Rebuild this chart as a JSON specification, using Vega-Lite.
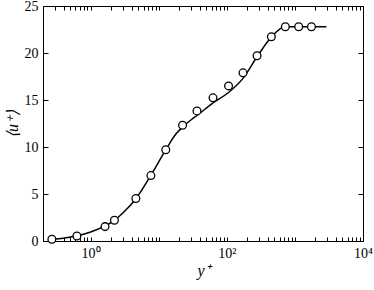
{
  "$schema": "https://vega.github.io/schema/vega-lite/v6.json",
  "width": 320,
  "height": 235,
  "autosize": "none",
  "padding": {"left": 43, "top": 6, "right": 11, "bottom": 49},
  "background": "white",
  "config": {
    "view": {"stroke": "black", "strokeWidth": 1},
    "font": "Liberation Serif",
    "axis": {
      "grid": false,
      "domain": false,
      "tickColor": "black",
      "labelColor": "black",
      "titleColor": "black",
      "labelFont": "Liberation Serif",
      "titleFont": "Liberation Serif",
      "labelFontSize": 14,
      "titleFontSize": 16,
      "titleFontWeight": "normal",
      "tickWidth": 1,
      "ticks": true
    }
  },
  "datasets": {
    "line": [
      {"yplus": 0.27, "u": 0.18},
      {"yplus": 0.4, "u": 0.3},
      {"yplus": 0.63, "u": 0.55},
      {"yplus": 1.0, "u": 0.95},
      {"yplus": 1.63, "u": 1.6},
      {"yplus": 2.24, "u": 2.2},
      {"yplus": 3.0, "u": 3.0},
      {"yplus": 4.62, "u": 4.5},
      {"yplus": 7.68, "u": 7.0},
      {"yplus": 12.7, "u": 9.7},
      {"yplus": 18, "u": 11.4},
      {"yplus": 22.4, "u": 12.1},
      {"yplus": 30, "u": 12.9},
      {"yplus": 36.5, "u": 13.35},
      {"yplus": 62.7, "u": 14.7},
      {"yplus": 106, "u": 15.8},
      {"yplus": 173, "u": 17.3},
      {"yplus": 278, "u": 19.6},
      {"yplus": 451, "u": 21.7},
      {"yplus": 600, "u": 22.55},
      {"yplus": 724, "u": 22.8},
      {"yplus": 1137, "u": 22.8},
      {"yplus": 2900, "u": 22.8}
    ],
    "pts": [
      {"yplus": 0.27, "u": 0.18},
      {"yplus": 0.63, "u": 0.53},
      {"yplus": 1.63, "u": 1.53},
      {"yplus": 2.24, "u": 2.2},
      {"yplus": 4.62, "u": 4.52},
      {"yplus": 7.68, "u": 6.96},
      {"yplus": 12.7, "u": 9.71},
      {"yplus": 22.4, "u": 12.32},
      {"yplus": 36.5, "u": 13.84},
      {"yplus": 62.7, "u": 15.23},
      {"yplus": 106, "u": 16.5},
      {"yplus": 173, "u": 17.89},
      {"yplus": 278, "u": 19.7},
      {"yplus": 451, "u": 21.73},
      {"yplus": 724, "u": 22.79},
      {"yplus": 1137, "u": 22.79},
      {"yplus": 1750, "u": 22.79}
    ]
  },
  "layer": [
    {
      "data": {"name": "line"},
      "mark": {"type": "line", "color": "black", "strokeWidth": 1.5, "interpolate": "monotone"},
      "encoding": {
        "x": {
          "field": "yplus", "type": "quantitative",
          "scale": {"type": "log", "domain": [0.2, 10000], "nice": false},
          "axis": {
            "orient": "bottom",
            "offset": -4,
            "title": "y⁺",
            "titleFontStyle": "italic",
            "titlePadding": 2,
            "values": [0.2,0.3,0.4,0.5,0.6,0.7,0.8,0.9,1,2,3,4,5,6,7,8,9,10,20,30,40,50,60,70,80,90,100,200,300,400,500,600,700,800,900,1000,2000,3000,4000,5000,6000,7000,8000,9000,10000],
            "labelExpr": "datum.value == 1 ? '10⁰' : datum.value == 100 ? '10²' : datum.value == 10000 ? '10⁴' : ''",
            "labelOverlap": false,
            "labelFlush": false,
            "labelBound": false,
            "tickSize": 4,
            "labelPadding": 5
          }
        },
        "y": {
          "field": "u", "type": "quantitative",
          "scale": {"domain": [0, 25], "nice": false, "zero": true},
          "axis": {
            "orient": "left",
            "offset": -5,
            "title": "⟨u⁺⟩",
            "titleFontStyle": "italic",
            "titlePadding": 4,
            "values": [0, 5, 10, 15, 20, 25],
            "tickSize": 5,
            "labelPadding": 5
          }
        }
      }
    },
    {
      "data": {"name": "pts"},
      "mark": {"type": "point", "shape": "circle", "filled": true, "fill": "white", "stroke": "black", "strokeWidth": 1.3, "size": 60, "opacity": 1},
      "encoding": {
        "x": {
          "field": "yplus", "type": "quantitative",
          "scale": {"type": "log", "domain": [0.2, 10000], "nice": false},
          "axis": {
            "orient": "top",
            "offset": -4,
            "title": null,
            "values": [0.2,0.3,0.4,0.5,0.6,0.7,0.8,0.9,1,2,3,4,5,6,7,8,9,10,20,30,40,50,60,70,80,90,100,200,300,400,500,600,700,800,900,1000,2000,3000,4000,5000,6000,7000,8000,9000,10000],
            "labels": false,
            "tickSize": 4
          }
        },
        "y": {
          "field": "u", "type": "quantitative",
          "scale": {"domain": [0, 25], "nice": false},
          "axis": {
            "orient": "right",
            "offset": -5,
            "title": null,
            "values": [0, 5, 10, 15, 20, 25],
            "labels": false,
            "tickSize": 5
          }
        }
      }
    }
  ],
  "resolve": {"axis": {"x": "independent", "y": "independent"}}
}
